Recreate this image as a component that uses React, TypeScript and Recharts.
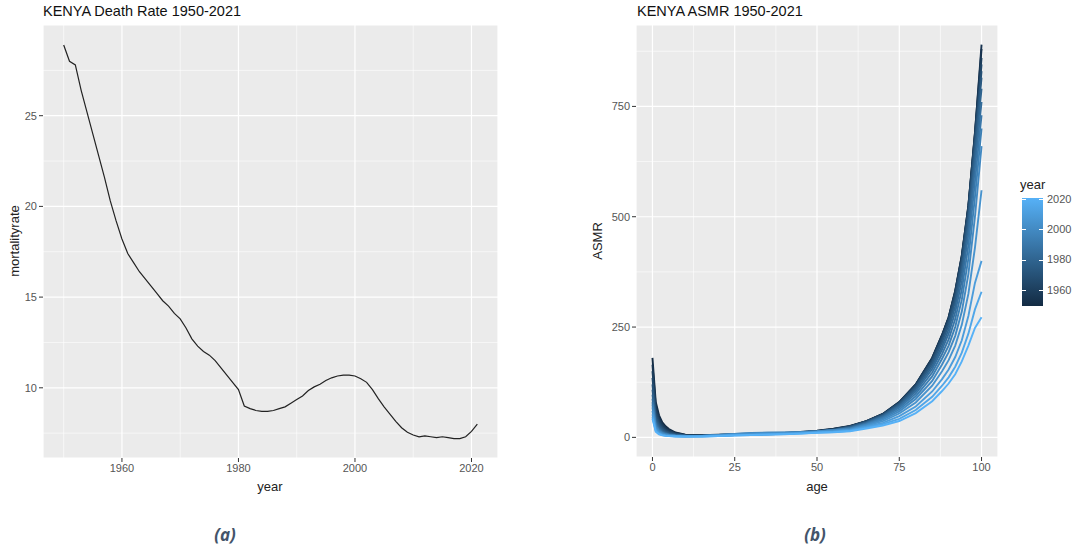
import { LineChart, Line, XAxis, YAxis, CartesianGrid } from 'recharts';

// panel (a): crude death rate per year
const years = [
  1950, 1951, 1952, 1953, 1954, 1955, 1956, 1957, 1958, 1959,
  1960, 1961, 1962, 1963, 1964, 1965, 1966, 1967, 1968, 1969,
  1970, 1971, 1972, 1973, 1974, 1975, 1976, 1977, 1978, 1979,
  1980, 1981, 1982, 1983, 1984, 1985, 1986, 1987, 1988, 1989,
  1990, 1991, 1992, 1993, 1994, 1995, 1996, 1997, 1998, 1999,
  2000, 2001, 2002, 2003, 2004, 2005, 2006, 2007, 2008, 2009,
  2010, 2011, 2012, 2013, 2014, 2015, 2016, 2017, 2018, 2019,
  2020, 2021,
];
const deathRate = [
  28.9, 28.0, 27.8, 26.4, 25.2, 24.0, 22.8, 21.6, 20.3, 19.2,
  18.2, 17.4, 16.9, 16.4, 16.0, 15.6, 15.2, 14.8, 14.5, 14.1,
  13.8, 13.3, 12.7, 12.3, 12.0, 11.8, 11.5, 11.1, 10.7, 10.3,
  9.9, 9.0, 8.85, 8.75, 8.7, 8.7, 8.75, 8.85, 8.95, 9.15,
  9.35, 9.55, 9.85, 10.05, 10.2, 10.4, 10.55, 10.65, 10.7, 10.7,
  10.65, 10.5, 10.3, 9.9, 9.4, 8.95, 8.55, 8.15, 7.8, 7.55,
  7.4, 7.3, 7.35, 7.3, 7.25, 7.3, 7.25, 7.2, 7.2, 7.3,
  7.6, 8.0,
];
const rateTicksX = [1960, 1980, 2000, 2020];
const rateMinorX = [1950, 1970, 1990, 2010];
const rateTicksY = [10, 15, 20, 25];
const rateMinorY = [7.5, 12.5, 17.5, 22.5, 27.5];

// panel (b): age specific mortality rate, selected years
const ages = [0, 1, 2, 3, 4, 5, 7, 10, 15, 20, 25, 30, 35, 40, 45, 50, 55, 60, 65, 70, 75, 80, 85, 88, 90, 92, 94, 96, 98, 100];
const asmr1950 = [180, 80, 50, 34, 25, 19, 11, 6, 5, 6, 7, 8, 9, 10, 12, 15, 19.5, 26, 37, 53, 80, 120, 180, 232, 272, 332, 412, 525, 690, 880];
const asmr1955 = [165, 72, 45, 30, 22, 16.5, 10, 5.5, 4.5, 5.5, 6.5, 7.5, 8.5, 9.5, 11.5, 14.5, 19, 25.5, 37, 53, 80, 120, 180, 232, 272, 332, 412, 525, 690, 890];
const asmr1960 = [150, 64, 40, 27, 19, 14.5, 9, 5, 4.2, 5.2, 6.2, 7.2, 8.2, 9.2, 11.2, 14, 18.5, 25, 36.5, 52.5, 79, 119, 178, 230, 270, 329, 409, 522, 686, 860];
const asmr1965 = [135, 56, 35, 23, 16.5, 12.5, 8, 4.6, 4, 5, 6, 7, 8, 9, 11, 13.7, 18, 24.5, 36, 52, 78, 117, 175, 227, 267, 325, 405, 518, 680, 845];
const asmr1970 = [120, 49, 30, 20, 14, 10.5, 7, 4.2, 3.7, 4.7, 5.7, 6.7, 7.7, 8.7, 10.7, 13.4, 17.5, 24, 35.5, 51, 77, 115, 172, 222, 262, 318, 398, 510, 670, 830];
const asmr1975 = [108, 43, 26, 17, 12, 9, 6, 3.8, 3.4, 4.4, 5.4, 6.4, 7.4, 8.4, 10.4, 13, 17, 23.5, 34.5, 50, 75, 112, 167, 215, 254, 308, 386, 497, 655, 815];
const asmr1980 = [97, 38, 22, 14.5, 10, 7.5, 5.2, 3.5, 3.2, 4.2, 5.2, 6.2, 7.2, 8.2, 10.1, 12.7, 16.5, 22.5, 33.5, 48.5, 72.5, 108, 161, 207, 245, 297, 372, 480, 635, 790];
const asmr1985 = [88, 33, 19, 12.5, 8.7, 6.5, 4.6, 3.2, 3.1, 4.2, 5.4, 6.6, 7.7, 8.6, 10.2, 12.6, 16.2, 21.5, 32, 47, 70, 104, 155, 199, 235, 284, 355, 460, 610, 760];
const asmr1990 = [80, 29, 17, 11, 7.8, 5.9, 4.2, 3.1, 3.2, 4.7, 6.3, 7.8, 9, 9.7, 11, 13, 16.2, 20.5, 31, 45, 67, 99, 147, 189, 222, 268, 335, 435, 580, 730];
const asmr1995 = [74, 26, 15, 10, 7, 5.4, 3.9, 3, 3.4, 5.4, 7.6, 9.3, 10.3, 10.8, 11.8, 13.6, 16.4, 19.5, 29.5, 43, 63, 93, 138, 178, 208, 250, 312, 405, 545, 700];
const asmr2000 = [68, 24, 13.5, 9, 6.4, 5, 3.6, 2.9, 3.4, 5.6, 8, 9.8, 10.8, 11.2, 12, 13.8, 16.5, 18.5, 28, 40, 59, 87, 128, 165, 193, 230, 285, 370, 500, 660];
const asmr2005 = [60, 20, 11.5, 7.5, 5.4, 4.2, 3.1, 2.5, 2.9, 4.6, 6.5, 8, 9, 9.7, 10.8, 12.8, 14.5, 17.5, 26, 37, 54, 79, 117, 150, 175, 208, 255, 325, 430, 560];
const asmr2010 = [52, 17, 9.5, 6.2, 4.5, 3.5, 2.6, 2, 2.4, 3.6, 5, 6.2, 7.2, 8.1, 9.5, 11.5, 13.5, 16.5, 24, 33, 48, 70, 104, 132, 154, 182, 220, 275, 350, 400];
const asmr2015 = [46, 14.5, 8, 5.2, 3.8, 3, 2.3, 1.8, 2.1, 3.2, 4.4, 5.5, 6.5, 7.5, 8.9, 10.8, 12.3, 15, 22, 30, 42, 62, 92, 117, 136, 160, 192, 235, 290, 330];
const asmr2021 = [42, 13, 7, 4.6, 3.4, 2.7, 2.1, 1.6, 2, 3, 4.1, 5.2, 6.2, 7.1, 8.5, 10.3, 11.5, 14, 20, 27, 37, 55, 82, 105, 122, 143, 172, 208, 248, 272];

const asmrYears = [1950, 1955, 1960, 1965, 1970, 1975, 1980, 1985, 1990, 1995, 2000, 2005, 2010, 2015, 2021];
const asmrSeries = [asmr1950, asmr1955, asmr1960, asmr1965, asmr1970, asmr1975, asmr1980, asmr1985, asmr1990, asmr1995, asmr2000, asmr2005, asmr2010, asmr2015, asmr2021];
const asmrTicksX = [0, 25, 50, 75, 100];
const asmrMinorX = [12.5, 37.5, 62.5, 87.5];
const asmrTicksY = [0, 250, 500, 750];
const asmrMinorY = [125, 375, 625, 875];
const legendTicks = [1960, 1980, 2000, 2020];

const rateData = years.map((year, i) => ({ year, rate: deathRate[i] }));
const asmrData = ages.map((age, i) => {
  const row: { [key: string]: number } = { age };
  asmrYears.forEach((y, j) => {
    row['y' + y] = asmrSeries[j][i];
  });
  return row;
});

const FONT = '"Liberation Sans", Arial, sans-serif';
const LOW = [0x13, 0x2b, 0x43];
const HIGH = [0x56, 0xb1, 0xf7];
const YEAR_MIN = 1950;
const YEAR_MAX = 2021;

// ggplot-ish continuous blue scale
function yearColor(year: number) {
  const t = (year - YEAR_MIN) / (YEAR_MAX - YEAR_MIN);
  const c = LOW.map((lo, i) => Math.round(lo + (HIGH[i] - lo) * t));
  return `rgb(${c[0]},${c[1]},${c[2]})`;
}

const tickStyle = { fontSize: 11, fill: '#555', fontFamily: FONT };
const textBase: React.CSSProperties = { position: 'absolute', fontFamily: FONT, whiteSpace: 'nowrap' };

export default function App() {
  const barTop = 198;
  const barBottom = 306;
  const legendY = (y: number) => barBottom - ((y - YEAR_MIN) / (YEAR_MAX - YEAR_MIN)) * (barBottom - barTop);

  return (
    <div style={{ position: 'absolute', left: 0, top: 0, width: 1088, height: 553, background: '#fff', overflow: 'hidden' }}>
      {/* panel (a) */}
      <div style={{ position: 'absolute', left: 0, top: 0 }}>
        <LineChart width={520} height={500} data={rateData} margin={{ top: 25, right: 22, bottom: 12, left: 0 }}>
          <CartesianGrid
            fill="#EBEBEB"
            stroke="#fff"
            strokeWidth={0.6}
            horizontalValues={rateMinorY}
            verticalValues={rateMinorX}
          />
          <CartesianGrid fill="none" stroke="#fff" strokeWidth={1.2} />
          <XAxis
            dataKey="year"
            type="number"
            domain={[1946.45, 2024.55]}
            ticks={rateTicksX}
            allowDataOverflow
            axisLine={false}
            tickLine={{ stroke: '#333' }}
            tickSize={4}
            tickMargin={2}
            height={30}
            tick={tickStyle}
          />
          <YAxis
            type="number"
            domain={[6.13, 30.0]}
            ticks={rateTicksY}
            allowDataOverflow
            axisLine={false}
            tickLine={{ stroke: '#333' }}
            tickSize={4}
            tickMargin={2}
            width={43}
            tick={tickStyle}
          />
          <Line type="linear" dataKey="rate" stroke="#222" strokeWidth={1.2} dot={false} isAnimationActive={false} />
        </LineChart>
      </div>

      {/* panel (b) */}
      <div style={{ position: 'absolute', left: 560, top: 0 }}>
        <LineChart width={440} height={500} data={asmrData} margin={{ top: 25, right: 2, bottom: 13, left: 36 }}>
          <CartesianGrid
            fill="#EBEBEB"
            stroke="#fff"
            strokeWidth={0.6}
            horizontalValues={asmrMinorY}
            verticalValues={asmrMinorX}
          />
          <CartesianGrid fill="none" stroke="#fff" strokeWidth={1.2} />
          <XAxis
            dataKey="age"
            type="number"
            domain={[-5, 105]}
            ticks={asmrTicksX}
            allowDataOverflow
            axisLine={false}
            tickLine={{ stroke: '#333' }}
            tickSize={4}
            tickMargin={2}
            height={30}
            tick={tickStyle}
          />
          <YAxis
            type="number"
            domain={[-44.5, 934.5]}
            ticks={asmrTicksY}
            allowDataOverflow
            axisLine={false}
            tickLine={{ stroke: '#333' }}
            tickSize={4}
            tickMargin={2}
            width={40}
            tick={tickStyle}
          />
          {asmrYears.map((y) => (
            <Line
              key={y}
              type="linear"
              dataKey={'y' + y}
              stroke={yearColor(y)}
              strokeWidth={1.9}
              dot={false}
              isAnimationActive={false}
            />
          ))}
        </LineChart>
      </div>

      {/* titles and axis labels */}
      <div style={{ ...textBase, left: 43, top: 3, fontSize: 14.5, color: '#111' }}>KENYA Death Rate 1950-2021</div>
      <div style={{ ...textBase, left: 637, top: 3, fontSize: 14.5, color: '#111' }}>KENYA ASMR 1950-2021</div>
      <div style={{ ...textBase, left: 270, top: 479, fontSize: 13, color: '#222', transform: 'translateX(-50%)' }}>year</div>
      <div style={{ ...textBase, left: 817, top: 479, fontSize: 13, color: '#222', transform: 'translateX(-50%)' }}>age</div>
      <div style={{ ...textBase, left: 14, top: 241, fontSize: 13, color: '#222', transform: 'translate(-50%, -50%) rotate(-90deg)' }}>mortalityrate</div>
      <div style={{ ...textBase, left: 597, top: 241, fontSize: 13, color: '#222', transform: 'translate(-50%, -50%) rotate(-90deg)' }}>ASMR</div>

      {/* colour bar legend */}
      <div style={{ ...textBase, left: 1020, top: 177, fontSize: 13, color: '#222' }}>year</div>
      <div
        style={{
          position: 'absolute',
          left: 1022,
          top: barTop,
          width: 21,
          height: barBottom - barTop,
          background: 'linear-gradient(to bottom, #56B1F7, #132B43)',
        }}
      />
      {legendTicks.map((t) => (
        <div key={t}>
          <div style={{ position: 'absolute', left: 1022, top: legendY(t) - 0.5, width: 4, height: 1, background: '#fff' }} />
          <div style={{ position: 'absolute', left: 1039, top: legendY(t) - 0.5, width: 4, height: 1, background: '#fff' }} />
          <div style={{ ...textBase, left: 1047, top: legendY(t) - 7, fontSize: 11, color: '#555' }}>{t}</div>
        </div>
      ))}

      {/* panel captions */}
      <div style={{ ...textBase, left: 225, top: 523, fontSize: 17, fontWeight: 'bold', fontStyle: 'italic', color: '#44546A', fontFamily: '"Open Sans", "Liberation Sans", sans-serif', transform: 'translateX(-50%)' }}>(a)</div>
      <div style={{ ...textBase, left: 815, top: 523, fontSize: 17, fontWeight: 'bold', fontStyle: 'italic', color: '#44546A', fontFamily: '"Open Sans", "Liberation Sans", sans-serif', transform: 'translateX(-50%)' }}>(b)</div>
    </div>
  );
}
